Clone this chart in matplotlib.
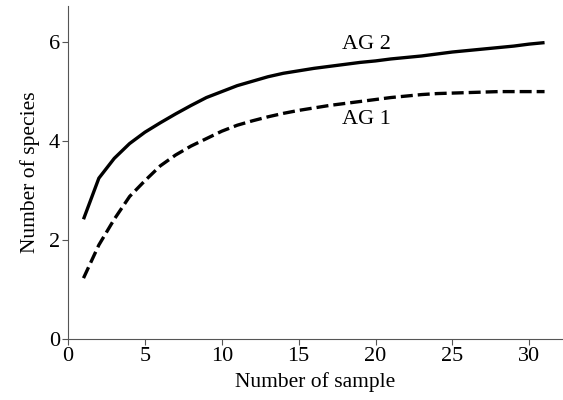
import matplotlib
matplotlib.use('Agg')
import matplotlib.pyplot as plt

# rarefaction curves
samples = list(range(1, 32))
ag2 = [2.42, 3.25, 3.65, 3.95, 4.18, 4.37, 4.55, 4.72, 4.88, 5.0, 5.12, 5.21, 5.3, 5.37, 5.42, 5.47,
       5.51, 5.55, 5.59, 5.62, 5.66, 5.69, 5.72, 5.76, 5.8, 5.83, 5.86, 5.89, 5.92, 5.96, 5.99]
ag1 = [1.23, 1.9, 2.42, 2.88, 3.2, 3.5, 3.72, 3.9, 4.05, 4.2, 4.32, 4.41, 4.49, 4.56, 4.62, 4.67,
       4.72, 4.76, 4.8, 4.84, 4.88, 4.91, 4.94, 4.96, 4.97, 4.98, 4.99, 5.0, 5.0, 5.0, 5.0]

plt.rcParams['font.family'] = 'Liberation Serif'

fig = plt.figure(figsize=(5.63, 4), dpi=100)
ax = fig.add_axes([0.121, 0.1525, 0.879, 0.8325])

ax.plot(samples, ag2, color='black', lw=2.4, solid_capstyle='butt')
ax.plot(samples, ag1, color='black', lw=2.4, ls=(0, (3.6, 1.5)), dash_capstyle='butt')

ax.text(17.8, 5.96, 'AG 2', fontsize=16, va='center', ha='left')
ax.text(17.8, 4.44, 'AG 1', fontsize=16, va='center', ha='left')

ax.set_xlim(0, 32.2)
ax.set_ylim(0, 6.73)
ax.set_xticks([0, 5, 10, 15, 20, 25, 30])
ax.set_yticks([0, 2, 4, 6])
ax.tick_params(labelsize=16, direction='out', length=4, width=0.8, color='#555555', pad=2)
ax.spines['top'].set_visible(False)
ax.spines['right'].set_visible(False)
for s in ['left', 'bottom']:
    ax.spines[s].set_color('#555555')
    ax.spines[s].set_linewidth(0.8)

ax.set_xlabel('Number of sample', fontsize=15.5, labelpad=4)
ax.set_ylabel('Number of species', fontsize=15.5, labelpad=6)

fig.savefig('out.png', dpi=100)
